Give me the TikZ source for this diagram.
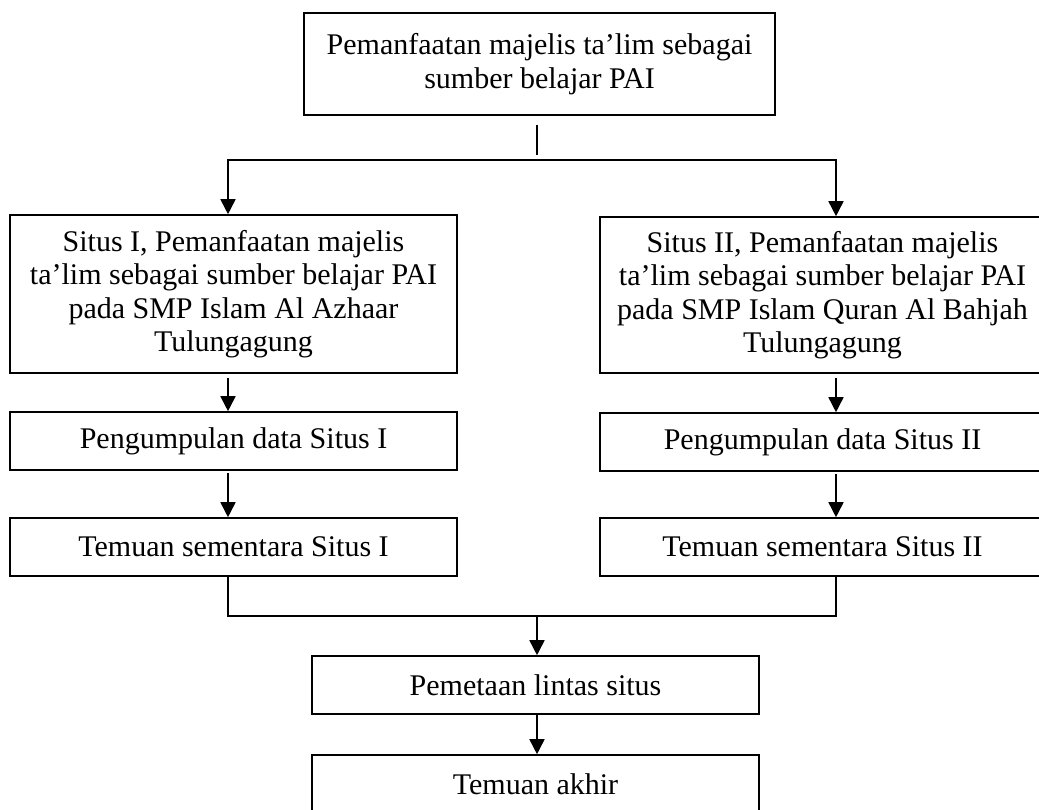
\documentclass[tikz,border=0pt]{standalone}
\usepackage{fontspec}
\setmainfont{Liberation Serif}
\usetikzlibrary{arrows.meta}

\begin{document}
\begin{tikzpicture}[x=0.5pt,y=-0.5pt,
	kotak/.style={draw=black, line width=0.8pt, rectangle, align=center, inner sep=0pt, font=\fontsize{15}{16.7}\selectfont},
	panah/.style={-{Triangle[length=7.5pt,width=7.5pt]}, line width=0.8pt},
	garis/.style={line width=0.8pt}]
			\useasboundingbox (0,0) rectangle (1039,809);
			\node (top) [kotak, minimum width=235.5pt, minimum height=51pt] at (539.5,64){Pemanfaatan majelis ta’lim sebagai\\ sumber belajar PAI};
			\node (s1) [kotak, minimum width=223.5pt, minimum height=79pt] at (233.5,294){Situs I, Pemanfaatan majelis\\ ta’lim sebagai sumber belajar PAI\\ pada SMP Islam Al Azhaar\\ Tulungagung};
			\node (s2) [kotak, minimum width=222.5pt, minimum height=78pt] at (822.5,295){Situs II, Pemanfaatan majelis\\ ta’lim sebagai sumber belajar PAI\\ pada SMP Islam Quran Al Bahjah\\ Tulungagung};
			\node (p1) [kotak, minimum width=223.5pt, minimum height=29pt] at (233.5,441){Pengumpulan data Situs I};
			\node (p2) [kotak, minimum width=222.5pt, minimum height=29pt] at (822.5,442){Pengumpulan data Situs II};
			\node (t1) [kotak, minimum width=223.5pt, minimum height=29pt] at (233.5,547){Temuan sementara Situs I};
			\node (t2) [kotak, minimum width=222.5pt, minimum height=29pt] at (822.5,547){Temuan sementara Situs II};
			\node (lintas) [kotak, minimum width=223.5pt, minimum height=29pt] at (535.5,685){Pemetaan lintas situs};
			\node (akhir) [kotak, minimum width=223.5pt, minimum height=29pt] at (535.5,784){Temuan akhir};
			\coordinate (kiri) at (228,0);
			\coordinate (kanan) at (836,0);
			\coordinate (cabang) at (537,160);
			\coordinate (gabung) at (537,616);
			
			\draw[garis] ([yshift=-4.5pt]top.south -| cabang) -- ([yshift=2.5pt]cabang);
			\draw[panah] (cabang) -| (s1.north -| kiri);
			\draw[panah] (cabang) -| (s2.north -| kanan);
			\draw[panah, shorten <=2pt] (s1.south -| kiri) -- (p1.north -| kiri);
			\draw[panah, shorten <=1pt] (p1.south -| kiri) -- (t1.north -| kiri);
			\draw[panah, shorten <=2pt] (s2.south -| kanan) -- (p2.north -| kanan);
			\draw[panah, shorten <=1pt] (p2.south -| kanan) -- (t2.north -| kanan);
			\draw[garis] (t1.south -| kiri) |- (gabung) -| (t2.south -| kanan);
			\draw[panah] (gabung) -- (lintas.north -| gabung);
			\draw[panah] (lintas.south -| gabung) -- (akhir.north -| gabung);
		\end{tikzpicture}
\end{document}
